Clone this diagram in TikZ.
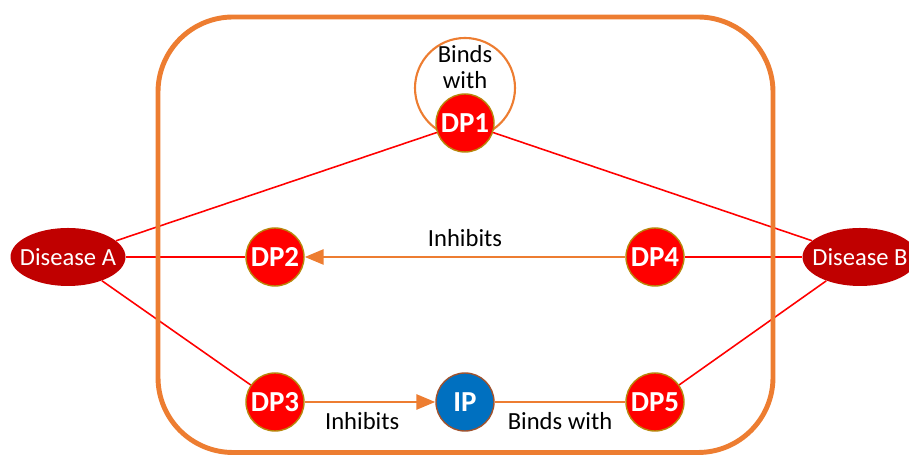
\documentclass[tikz,border=0pt]{standalone}
\usepackage{fontspec}
\setmainfont{Carlito}
\usepackage{tikz}
\usetikzlibrary{arrows.meta,shapes.geometric}

\definecolor{dpred}{HTML}{FF0000}
\definecolor{dprim}{HTML}{B8860B}
\definecolor{disred}{HTML}{C00000}
\definecolor{ipblue}{HTML}{0070C0}
\definecolor{iprim}{HTML}{A0522D}
\definecolor{boxorange}{HTML}{ED7D31}

\tikzset{
  drug/.style={circle, fill=dpred, draw=dprim, line width=0.8pt, minimum size=1.16cm, inner sep=0pt, text=white, font=\fontsize{16.5}{17}\selectfont\bfseries},
  disease/.style={ellipse, fill=disred, minimum width=2.3cm, minimum height=1.16cm, inner xsep=-0.25cm, inner ysep=0pt, text=white, font=\fontsize{14}{15}\selectfont},
  link/.style={draw=dpred, line width=0.9pt},
  act/.style={color=boxorange, line width=1.6pt},
  inhib/.style={-{Triangle[length=0.38cm, width=0.3cm]}},
  lab/.style={font=\fontsize{14}{15}\selectfont, text=black}
}

\begin{document}
\begin{tikzpicture}
  \useasboundingbox (0,0) rectangle (18.18,9.1);

  % nodes
  \node[circle, draw=boxorange, line width=1.2pt, minimum size=2cm, inner sep=0pt] (ring) at (9.3,7.34) {};
  \node[lab, align=center] (bw) at (9.3,7.76) {Binds\\with};
  \node[drug] (dp1) at (9.3,6.64) {DP1};
  \node[drug] (dp2) at (5.5,3.96) {DP2};
  \node[drug] (dp4) at (13.1,3.96) {DP4};
  \node[drug] (dp3) at (5.5,1.06) {DP3};
  \node[drug, fill=ipblue, draw=iprim] (ip) at (9.3,1.06) {IP};
  \node[drug] (dp5) at (13.1,1.06) {DP5};
  \node[disease] (da) at (1.36,3.96) {Disease A};
  \node[disease] (db) at (17.2,3.96) {Disease B};

  % links
  \path[link]
  (da) edge (dp1)
  (da) edge (dp2)
  (da) edge (dp3)
  (db) edge (dp1)
  (db) edge (dp4)
  (db) edge (dp5)
  ;

  % box
  \draw[boxorange, line width=2.8pt, rounded corners=1.5cm] (3.16,0.05) rectangle (15.46,8.76);

  % interactions
  \path[act]
  (dp4) edge[inhib] node[lab, above=2pt] {Inhibits} (dp2)
  (dp3) edge[inhib] node[lab, below=2pt, pos=0.44] {Inhibits} (ip)
  (ip) edge node[lab, below=2pt] {Binds with} (dp5)
  ;
\end{tikzpicture}
\end{document}
